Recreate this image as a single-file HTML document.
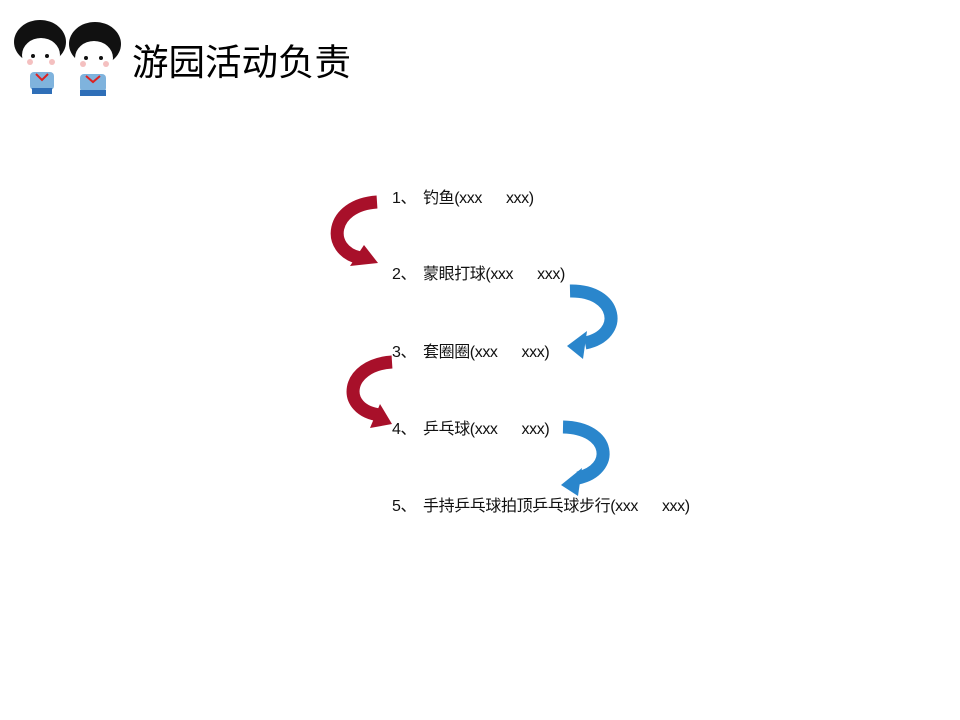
<!DOCTYPE html>
<html><head><meta charset="utf-8"><style>
body{margin:0;background:#fff;}
#c{position:relative;width:960px;height:720px;overflow:hidden;background:#fff;font-family:"Liberation Sans","Noto Sans CJK SC",sans-serif;}
.t{position:absolute;font-size:16px;color:#111;white-space:pre;letter-spacing:-0.4px;}
.t b{font-weight:normal;display:inline-block;width:24px;}
.t i{font-style:normal;display:inline-block;width:31px;}
.title{position:absolute;left:132px;top:33px;font-size:36.5px;color:#000;font-family:"Noto Sans CJK SC",sans-serif;}
</style></head><body><div id="c">
<svg width="960" height="720" style="position:absolute;left:0;top:0">
 <g>
  <ellipse cx="40" cy="42" rx="26" ry="22" fill="#111"/>
  <ellipse cx="41" cy="55" rx="19" ry="17" fill="#fff"/>
  <circle cx="33" cy="56" r="2" fill="#111"/><circle cx="47" cy="56" r="2" fill="#111"/>
  <circle cx="30" cy="62" r="3" fill="#f4c0c0"/><circle cx="52" cy="62" r="3" fill="#f4c0c0"/>
  <rect x="30" y="72" width="24" height="18" rx="4" fill="#7fb3dd"/>
  <rect x="32" y="88" width="20" height="6" fill="#2f6fb8"/>
  <path d="M36 74 L42 80 L48 74" stroke="#d22" stroke-width="2" fill="none"/>
  <ellipse cx="95" cy="44" rx="26" ry="22" fill="#111"/>
  <ellipse cx="94" cy="58" rx="19" ry="17" fill="#fff"/>
  <circle cx="86" cy="58" r="2" fill="#111"/><circle cx="101" cy="58" r="2" fill="#111"/>
  <circle cx="83" cy="64" r="3" fill="#f4c0c0"/><circle cx="106" cy="64" r="3" fill="#f4c0c0"/>
  <rect x="80" y="74" width="26" height="18" rx="4" fill="#7fb3dd"/>
  <rect x="80" y="90" width="26" height="6" fill="#2f6fb8"/>
  <path d="M86 76 L93 82 L100 76" stroke="#d22" stroke-width="2" fill="none"/>
 </g>
 <g fill="none" stroke-width="13">
  <path d="M377,202 C330,205 325,250 360,258" stroke="#a8102a"/>
  <path d="M570,291 C618,290 625,335 585,343" stroke="#2a86cc"/>
  <path d="M392,362 C345,365 340,410 380,415" stroke="#a8102a"/>
  <path d="M563,427 C612,428 615,470 578,478" stroke="#2a86cc"/>
 </g>
 <polygon points="378,263 364,245 350,266" fill="#a8102a"/>
 <polygon points="567,346 587,331 583,359" fill="#2a86cc"/>
 <polygon points="392,424 380,404 370,428" fill="#a8102a"/>
 <polygon points="561,485 582,468 578,496" fill="#2a86cc"/>
</svg>
<div class="title">游园活动负责</div>
<div class="t" style="left:392px;top:184px"><i>1、</i>钓鱼(xxx<b></b>xxx)</div>
<div class="t" style="left:392px;top:260px"><i>2、</i>蒙眼打球(xxx<b></b>xxx)</div>
<div class="t" style="left:392px;top:338px"><i>3、</i>套圈圈(xxx<b></b>xxx)</div>
<div class="t" style="left:392px;top:415px"><i>4、</i>乒乓球(xxx<b></b>xxx)</div>
<div class="t" style="left:392px;top:492px"><i>5、</i>手持乒乓球拍顶乒乓球步行(xxx<b></b>xxx)</div>
</div></body></html>
